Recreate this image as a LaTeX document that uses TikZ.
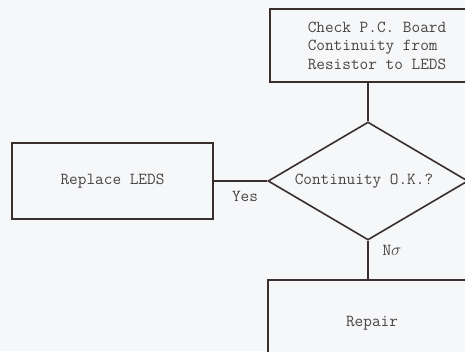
\documentclass[tikz,border=0pt]{standalone}
\usepackage{fontspec}
\usepackage{tikz}
\usetikzlibrary{shapes.geometric}
\definecolor{ink}{HTML}{3A2F2B}
\definecolor{paper}{HTML}{F5F7F9}
\definecolor{typeink}{HTML}{4A4444}

\begin{document}
\begin{tikzpicture}[
 x=1pt,y=-1pt,
 box/.style={draw=ink,line width=1.6pt,fill=paper,inner sep=0pt,align=center,text=typeink,font=\ttfamily\fontsize{16.8}{18.6}\selectfont},
 dec/.style={box,diamond,aspect=1.7},
 lbl/.style={text=typeink,font=\ttfamily\fontsize{16.8}{18.6}\selectfont},
 wire/.style={draw=ink,line width=1.6pt}]
\useasboundingbox (0,0) rectangle (465,351);
\fill[paper] (0,0) rectangle (465,351);
\clip (0,0) rectangle (465,351);
\node[box,align=left,minimum width=214pt,minimum height=73pt] (check) at (377,45.5) {Check P.C. Board\\Continuity from\\Resistor to LEDS};
\node[dec,minimum width=200pt,minimum height=118pt] (cont) at (368,181) {\hspace*{-8pt}Continuity O.K.?};
\node[box,minimum width=201pt,minimum height=76pt] (replace) at (112.5,181) {Replace LEDS};
\node[box,minimum width=208pt,minimum height=86pt] (repair) at (372,323) {Repair};
\draw[wire] (cont.north) -- (cont.north |- check.south);
\draw[wire] (cont.west) -- (replace.east);
\draw[wire] (cont.south) -- (cont.south |- repair.north);
\node[lbl] (yes) at (245,196) {Yes};
\node[lbl] (no) at (392,250) {N$\sigma$};
\end{tikzpicture}
\end{document}
